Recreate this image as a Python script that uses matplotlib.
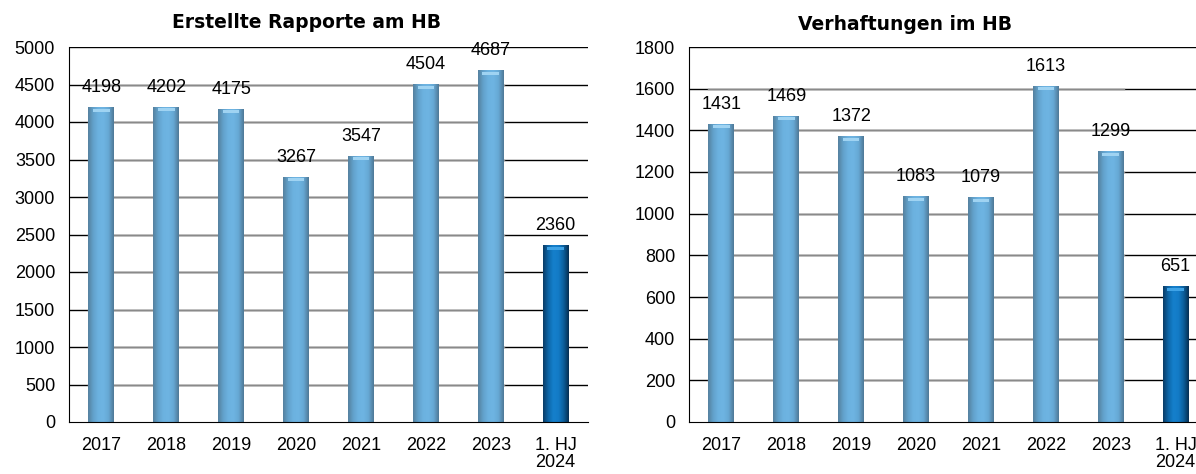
import numpy as np
import matplotlib
matplotlib.use("Agg")
import matplotlib.pyplot as plt
from matplotlib.colors import LinearSegmentedColormap

categories = ["2017", "2018", "2019", "2020", "2021", "2022", "2023", "1. HJ\n2024"]
rapporte = [4198, 4202, 4175, 3267, 3547, 4504, 4687, 2360]
verhaftungen = [1431, 1469, 1372, 1083, 1079, 1613, 1299, 651]
title_left = "Erstellte Rapporte am HB"
title_right = "Verhaftungen im HB"
yticks_left = [0, 500, 1000, 1500, 2000, 2500, 3000, 3500, 4000, 4500, 5000]
yticks_right = [0, 200, 400, 600, 800, 1000, 1200, 1400, 1600, 1800]

plt.rcParams["font.family"] = ["Liberation Sans", "DejaVu Sans"]

W, H = 1196, 474
fig = plt.figure(figsize=(W / 100, H / 100), dpi=100)

light_cmap = LinearSegmentedColormap.from_list(
    "light", ["#55819f", "#62a2cc", "#6cb2e0", "#6eb4e2", "#66a8d4", "#4f7996"])
dark_cmap = LinearSegmentedColormap.from_list(
    "dark", ["#0a3c66", "#0d66a8", "#1580cc", "#137bc6", "#0c5f9c", "#062f52"])

grad = np.linspace(0, 1, 64).reshape(1, -1)
FS = 13


def draw(ax, values, yticks, title, title_x, title_y):
    n = len(values)
    x = np.arange(n)
    ymax = yticks[-1]
    ax.set_xlim(-0.5, n - 0.5)
    ax.set_ylim(0, ymax)
    # grid lines: black, with gray segment across the light bars region
    for t in yticks[1:]:
        ax.axhline(t, color="black", lw=1.0, zorder=1)
        if t != ymax:
            ax.plot([-0.2, n - 1.8], [t, t], color="#8a8a8a", lw=1.0, zorder=1.5)
    bars = ax.bar(x, values, width=0.4, color="none", edgecolor="none", zorder=3)
    for i, b in enumerate(bars):
        cmap = dark_cmap if i == n - 1 else light_cmap
        x0 = b.get_x()
        w = b.get_width()
        h = b.get_height()
        im = ax.imshow(grad, extent=[x0, x0 + w, 0, h], aspect="auto",
                       cmap=cmap, zorder=3, interpolation="bicubic")
        im.set_clip_path(b)
        # top highlight cap
        cap_col = "#9fd3f2" if i < n - 1 else "#3fa3e6"
        ax.fill_between([x0 + w * 0.18, x0 + w * 0.82],
                        [h - ymax * 0.004] * 2, [h - ymax * 0.012] * 2,
                        color=cap_col, lw=0, zorder=4)
        ax.annotate(str(values[i]), (x[i], h), xytext=(0, 8),
                    textcoords="offset points", ha="center", va="bottom",
                    fontsize=FS, color="black", zorder=5)
    ax.set_xlim(-0.5, n - 0.5)
    ax.set_ylim(0, ymax)
    ax.set_xticks(x)
    ax.set_xticklabels(categories, fontsize=FS, linespacing=1.05)
    ax.set_yticks(yticks)
    ax.set_yticklabels([str(t) for t in yticks], fontsize=FS)
    ax.tick_params(axis="both", length=0)
    ax.tick_params(axis="x", pad=10.5)
    ax.tick_params(axis="y", pad=10)
    for s in ["top", "right"]:
        ax.spines[s].set_visible(False)
    ax.spines["left"].set_color("black")
    ax.spines["bottom"].set_color("black")
    ax.spines["left"].set_zorder(6)
    ax.spines["bottom"].set_zorder(6)
    fig.text(title_x, title_y, title, ha="center", va="center",
             fontsize=13.5, fontweight="bold", family="DejaVu Sans")


ax1 = fig.add_axes([69 / W, 52 / H, 519 / W, 375 / H])
draw(ax1, rapporte, yticks_left, title_left, 307 / W, 1 - 22 / H)
ax2 = fig.add_axes([689 / W, 52 / H, 519 / W, 375 / H])
draw(ax2, verhaftungen, yticks_right, title_right, 905 / W, 1 - 25 / H)

fig.savefig("out.png", dpi=100)
